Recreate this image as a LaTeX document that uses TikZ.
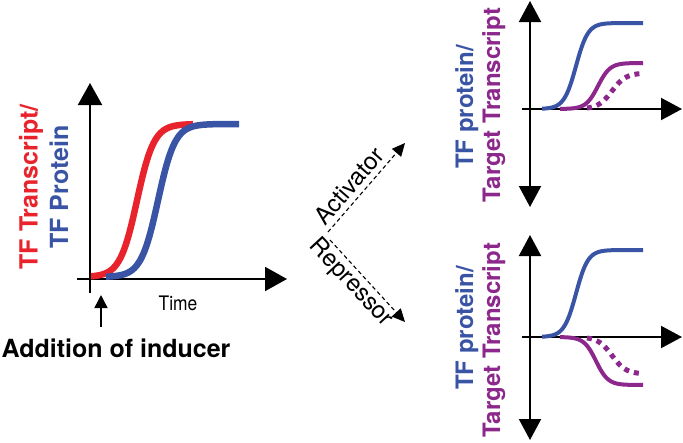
\documentclass[tikz,border=0pt]{standalone}
\usepackage{fontspec}
\setmainfont{TeX Gyre Heros}
\usetikzlibrary{arrows.meta}
\definecolor{tfred}{RGB}{232,35,43}
\definecolor{tfblue}{RGB}{58,84,165}
\definecolor{tfpurple}{RGB}{140,40,140}
\tikzset{
  bigaxis/.style={line width=2pt,-{Triangle[length=22pt,width=24pt]}},
  smallaxis/.style={line width=2pt,-{Triangle[length=21pt,width=22pt]}},
  bothaxis/.style={line width=2pt,{Triangle[length=21pt,width=22pt]}-{Triangle[length=21pt,width=22pt]}},
  thickcurve/.style={line width=6.5pt},
  thincurve/.style={line width=4pt},
  dotcurve/.style={line width=5pt,dash pattern=on 5pt off 5pt,color=tfpurple},
  boldlab/.style={font=\fontsize{25}{30}\selectfont\bfseries},
  rightlab/.style={font=\fontsize{24}{28}\selectfont\bfseries},
  reglab/.style={font=\fontsize{24}{28}\selectfont},
  choice/.style={line width=1.1pt,dash pattern=on 4pt off 3pt,-{Triangle[length=13pt,width=12pt]}}
}
\begin{document}
\begin{tikzpicture}[x=1pt,y=-1pt]
\useasboundingbox (0,0) rectangle (683,442);
% ---------- left plot ----------
\coordinate (ly0) at (90,293);
\coordinate (ly1) at (90,83);
\coordinate (lx0) at (77,279);
\coordinate (lx1) at (287,279);
\draw[bigaxis] (ly0) -- (ly1);
\draw[bigaxis] (lx0) -- (lx1);
\draw[thickcurve,tfred] plot[domain=91:193,samples=80] (\x,{277-153/(1+exp(-(\x-137)/8.5))});
\draw[thickcurve,tfblue] plot[domain=106:239,samples=100] (\x,{277-153/(1+exp(-(\x-158)/8.5))});
\node[boldlab,text=tfred,rotate=90,anchor=base] (l1) at (37.5,187) {TF Transcript/};
\node[boldlab,text=tfblue,rotate=90,anchor=base] (l2) at (68,187) {TF Protein};
\node[font=\fontsize{20}{24}\selectfont,xscale=0.87] (time) at (178,303) {Time};
\coordinate (ind0) at (101,327);
\coordinate (ind1) at (101,295);
\draw[line width=1.5pt,-{Triangle[length=13pt,width=13pt]}] (ind0) -- (ind1);
\node[boldlab] (add) at (116,348) {Addition of inducer};
% ---------- middle ----------
\coordinate (a0) at (328,232);
\coordinate (a1) at (405,143);
\coordinate (r0) at (330,240);
\coordinate (r1) at (405,322);
\draw[choice] (a0) -- (a1);
\draw[choice] (r0) -- (r1);
\node[reglab,rotate=49,inner sep=0pt] (act) at (349,186) {Activator};
\node[reglab,rotate=-47,inner sep=0pt] (rep) at (351,283) {Repressor};
% ---------- top right ----------
\coordinate (ty0) at (530,207);
\coordinate (ty1) at (530,1);
\coordinate (tx0) at (522,109);
\coordinate (tx1) at (682,109);
\draw[bothaxis] (ty0) -- (ty1);
\draw[smallaxis] (tx0) -- (tx1);
\draw[thincurve,tfblue] plot[domain=542:643,samples=80] (\x,{109-86/(1+exp(-(\x-576)/6))});
\draw[thincurve,tfpurple] plot[domain=560:643,samples=80] (\x,{109-46/(1+exp(-(\x-598)/6))});
\draw[dotcurve] plot[domain=587:643,samples=60] (\x,{109-36/(1+exp(-(\x-612)/7))});
\node[rightlab,text=tfblue,rotate=90,anchor=base] (tl1) at (473,107) {TF protein/};
\node[rightlab,text=tfpurple,rotate=90,anchor=base] (tl2) at (500,105) {Target Transcript};
% ---------- bottom right ----------
\coordinate (by0) at (530,440);
\coordinate (by1) at (530,235);
\coordinate (bx0) at (522,337);
\coordinate (bx1) at (682,337);
\draw[bothaxis] (by0) -- (by1);
\draw[smallaxis] (bx0) -- (bx1);
\draw[thincurve,tfblue] plot[domain=542:643,samples=80] (\x,{337-87/(1+exp(-(\x-576)/6))});
\draw[thincurve,tfpurple] plot[domain=560:643,samples=80] (\x,{337+48/(1+exp(-(\x-596)/6))});
\draw[dotcurve] plot[domain=587:643,samples=60] (\x,{337+37/(1+exp(-(\x-612)/7))});
\node[rightlab,text=tfblue,rotate=90,anchor=base] (bl1) at (473,328) {TF protein/};
\node[rightlab,text=tfpurple,rotate=90,anchor=base] (bl2) at (500,340) {Target Transcript};
\end{tikzpicture}
\end{document}
